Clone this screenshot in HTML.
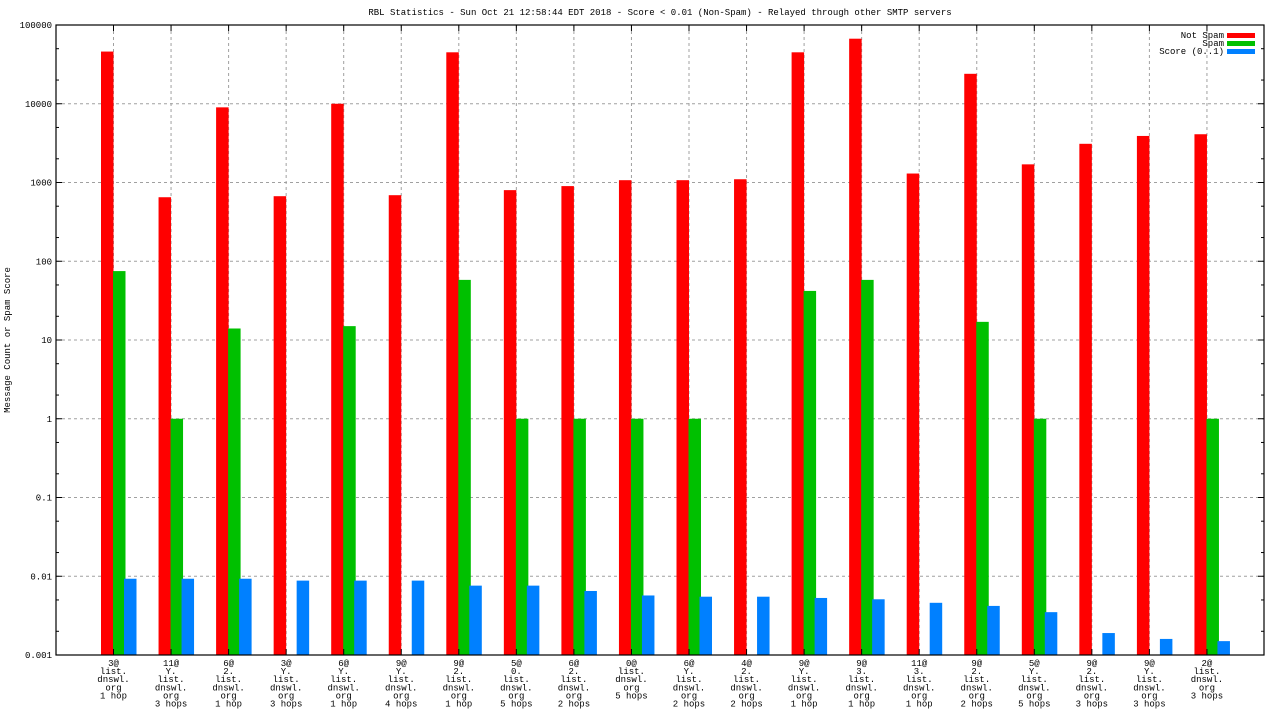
<!DOCTYPE html>
<html><head><meta charset="utf-8"><style>
html,body{margin:0;padding:0;background:#fff;}
svg{display:block;font-family:"Liberation Mono",monospace;}
</style></head><body>
<svg id="chart" width="1280" height="720" xmlns="http://www.w3.org/2000/svg">
<text x="660" y="15" font-size="9" text-anchor="middle">RBL Statistics - Sun Oct 21 12:58:44 EDT 2018 - Score &lt; 0.01 (Non-Spam) - Relayed through other SMTP servers</text>
<text transform="translate(10,340) rotate(-90)" font-size="9" text-anchor="middle">Message Count or Spam Score</text>
<g id="grid"></g><g id="bars"></g><g id="axes"></g>
<g font-size="9">
<text x="1224" y="38" text-anchor="end">Not Spam</text><rect x="1227" y="33" width="28" height="5" fill="#ff0000"/>
<text x="1224" y="46" text-anchor="end">Spam</text><rect x="1227" y="41" width="28" height="5" fill="#00c000"/>
<text x="1224" y="54" text-anchor="end">Score (0..1)</text><rect x="1227" y="49" width="28" height="5" fill="#0080ff"/>
</g>
</svg>
<script>
const categories = [
["3@","list.","dnswl.","org","1 hop"],["11@","Y.","list.","dnswl.","org","3 hops"],["6@","2.","list.","dnswl.","org","1 hop"],["3@","Y.","list.","dnswl.","org","3 hops"],
["6@","Y.","list.","dnswl.","org","1 hop"],["9@","Y.","list.","dnswl.","org","4 hops"],["9@","2.","list.","dnswl.","org","1 hop"],["5@","0.","list.","dnswl.","org","5 hops"],
["6@","2.","list.","dnswl.","org","2 hops"],["0@","list.","dnswl.","org","5 hops"],["6@","Y.","list.","dnswl.","org","2 hops"],["4@","2.","list.","dnswl.","org","2 hops"],
["9@","Y.","list.","dnswl.","org","1 hop"],["9@","3.","list.","dnswl.","org","1 hop"],["11@","3.","list.","dnswl.","org","1 hop"],["9@","2.","list.","dnswl.","org","2 hops"],
["5@","Y.","list.","dnswl.","org","5 hops"],["9@","2.","list.","dnswl.","org","3 hops"],["9@","Y.","list.","dnswl.","org","3 hops"],["2@","list.","dnswl.","org","3 hops"]];
const notSpam = [46000,650,9000,670,10000,690,45000,800,900,1070,1070,1100,45000,67000,1300,24000,1700,3100,3900,4100];
const spam = [75,1,14,null,15,null,58,1,1,1,1,null,42,58,null,17,1,null,null,1];
const score = [0.0093,0.0093,0.0093,0.0088,0.0088,0.0088,0.0076,0.0076,0.0065,0.0057,0.0055,0.0055,0.0053,0.0051,0.0046,0.0042,0.0035,0.0019,0.0016,0.0015];
const yTicks = ["0.001","0.01","0.1","1","10","100","1000","10000","100000"];

const L=56,R=1264,T=25,B=655;
const NS="http://www.w3.org/2000/svg";
function y(v){return B-(Math.log10(v)+3)*(B-T)/8;}
function xc(i){return 113.5+i*57.55;}
function mk(tag,attrs,parent){const e=document.createElementNS(NS,tag);for(const k in attrs)e.setAttribute(k,attrs[k]);parent.appendChild(e);return e;}
const grid=document.getElementById('grid'),bars=document.getElementById('bars'),axes=document.getElementById('axes');
yTicks.forEach((t,k)=>{
  const v=parseFloat(t),yy=y(v);
  if(k>0&&k<yTicks.length-1){const g=mk('line',{x1:L,x2:R,y1:yy,y2:yy,stroke:'#a0a0a0','stroke-dasharray':'3,3'},grid);
  
  }
  const tx=mk('text',{x:L-4,y:yy+3,'font-size':9,'text-anchor':'end'},axes);tx.textContent=t;
  
  
  mk('line',{x1:L,x2:L+6,y1:yy,y2:yy,stroke:'#000'},axes);mk('line',{x1:R-6,x2:R,y1:yy,y2:yy,stroke:'#000'},axes);
  if(k<yTicks.length-1){[2,5].forEach(m=>{const my=y(v*m);mk('line',{x1:L,x2:L+3,y1:my,y2:my,stroke:'#000'},axes);mk('line',{x1:R-3,x2:R,y1:my,y2:my,stroke:'#000'},axes);});}
});
categories.forEach((lines,i)=>{
  const c=xc(i);
  const g=mk('line',{x1:c,x2:c,y1:T,y2:B,stroke:'#a0a0a0','stroke-dasharray':'3,3'},grid);
  
  
  mk('line',{x1:c,x2:c,y1:B,y2:B-6,stroke:'#000'},axes);mk('line',{x1:c,x2:c,y1:T,y2:T+6,stroke:'#000'},axes);
  const t=mk('text',{x:c,y:666,'font-size':9,'text-anchor':'middle'},axes);
  
  
  lines.forEach((s,j)=>{const ts=mk('tspan',{x:c,dy:j?8.1:0},t);ts.textContent=s;});
  const series=[[notSpam[i],'#ff0000',-12.5,'bar-not-spam'],[spam[i],'#00c000',-0.5,'bar-spam'],[score[i],'#0080ff',10.5,'bar-score']];
  series.forEach(([v,col,off,name])=>{
    if(v==null)return;
    const yy=y(v);
    const r=mk('rect',{x:c+off,y:yy,width:12.5,height:B-yy,fill:col},bars);
    
    
  });
});
mk('rect',{x:L,y:T,width:R-L,height:B-T,fill:'none',stroke:'#000','stroke-width':1.2},axes);
</script>
</body></html>
